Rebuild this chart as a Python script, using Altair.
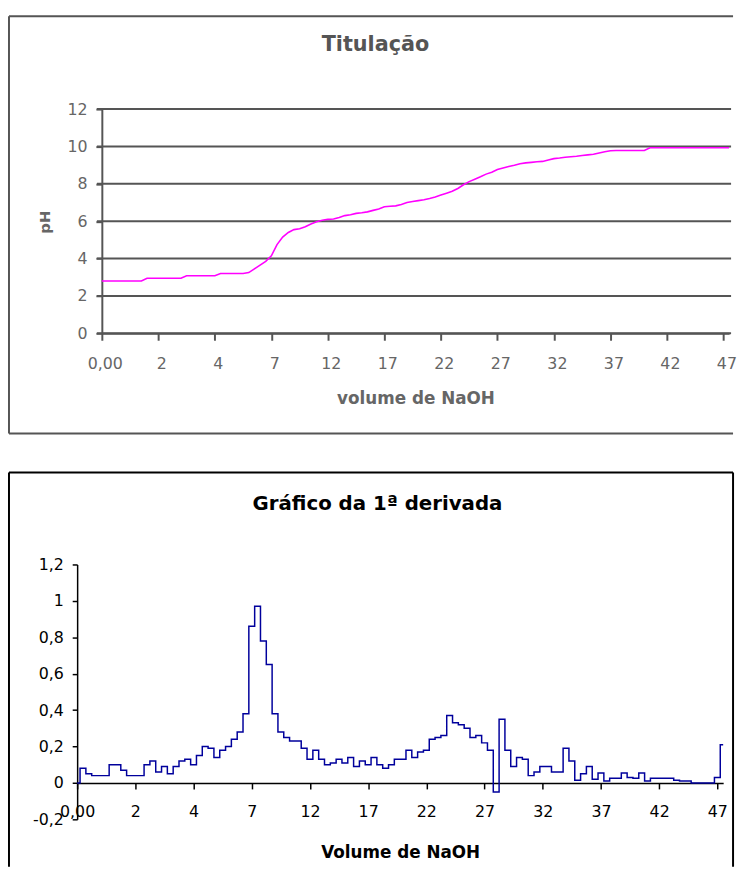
import altair as alt
import pandas as pd

# ---------------- data ----------------
x_labels = ["0,00", "2", "4", "7", "12", "17", "22", "27", "32", "37", "42", "47"]

ph_values = [
    2.80, 2.80, 2.80, 2.80, 2.80, 2.80, 2.80, 2.80,
    2.95, 2.95, 2.95, 2.95, 2.95, 2.95, 2.95,
    3.08, 3.08, 3.08, 3.08, 3.08, 3.08,
    3.20, 3.20, 3.20, 3.20, 3.20,
    3.25, 3.45, 3.65, 3.85, 4.15, 4.75, 5.15, 5.40, 5.55, 5.60,
    5.70, 5.85, 5.97, 6.05, 6.10, 6.12, 6.20, 6.30, 6.35, 6.42,
    6.45, 6.50, 6.58, 6.65, 6.77, 6.80, 6.82, 6.90, 7.00, 7.05,
    7.10, 7.15, 7.22, 7.30, 7.40, 7.50, 7.60, 7.75, 7.95, 8.12,
    8.25, 8.38, 8.52, 8.62, 8.77, 8.85, 8.93, 9.00, 9.08, 9.12,
    9.15, 9.18, 9.20, 9.28, 9.35, 9.38, 9.42, 9.45, 9.48, 9.52,
    9.55, 9.58, 9.65, 9.72, 9.77,
    9.78, 9.78, 9.78, 9.78, 9.78, 9.78,
    9.93, 9.93, 9.93, 9.93, 9.93, 9.93, 9.93, 9.93, 9.93, 9.93,
    9.93, 9.93, 9.93, 9.93, 9.93,
]

deriv_values = [
    0.00, 0.08, 0.05, 0.04, 0.04, 0.04, 0.10, 0.10, 0.07, 0.04,
    0.04, 0.04, 0.10, 0.12, 0.06, 0.09, 0.05, 0.09, 0.12, 0.13,
    0.10, 0.15, 0.20, 0.19, 0.14, 0.18, 0.20, 0.24, 0.28, 0.38,
    0.86, 0.97, 0.78, 0.65, 0.38, 0.28, 0.25, 0.23, 0.23, 0.19,
    0.13, 0.18, 0.13, 0.10, 0.11, 0.13, 0.11, 0.14, 0.09, 0.12,
    0.10, 0.14, 0.10, 0.08, 0.10, 0.13, 0.13, 0.18, 0.14, 0.17,
    0.18, 0.24, 0.25, 0.26, 0.37, 0.33, 0.32, 0.30, 0.25, 0.26,
    0.22, 0.18, -0.05, 0.35, 0.18, 0.09, 0.14, 0.13, 0.04, 0.06,
    0.09, 0.09, 0.06, 0.06, 0.19, 0.12, 0.015, 0.05, 0.09, 0.02,
    0.055, 0.01, 0.025, 0.025, 0.055, 0.03, 0.025, 0.055, 0.01, 0.025,
    0.025, 0.025, 0.025, 0.015, 0.01, 0.01, 0.0, 0.0, 0.0, 0.0,
    0.03, 0.21,
]

ph_ticks = [0, 2, 4, 6, 8, 10, 12]
deriv_ticks = [-0.2, 0.0, 0.2, 0.4, 0.6, 0.8, 1.0, 1.2]

title_top = "Titulação"
title_bottom = "Gráfico da 1ª derivada"
xtitle_top = "volume de NaOH"
xtitle_bottom = "Volume de NaOH"
ytitle_top = "pH"

# ---------------- tables ----------------
df_top = pd.DataFrame({"i": list(range(len(ph_values))), "ph": ph_values})
df_grid = pd.DataFrame({"ph": ph_ticks})
df_bot = pd.DataFrame({"i": list(range(len(deriv_values))), "d": deriv_values})
one = pd.DataFrame({"k": [0]})

last = len(ph_values) - 1
tick_vals = [k * 10 for k in range(len(x_labels))]
label_expr = "[" + ",".join("'%s'" % s for s in x_labels) + "][round(datum.value/10)]"
dec_expr = "replace(replace(format(datum.value, '.1~f'), '.', ','), '\u2212', '-')"

FONT = "DejaVu Sans"
GRAY = "#555555"
LGRAY = "#666666"


def vrule(x, y1, y2, color, w=2):
    return alt.Chart(one).mark_rule(color=color, strokeWidth=w).encode(
        x=alt.value(x), y=alt.value(y1), y2=alt.value(y2))


def hrule(y, x1, x2, color, w=2):
    return alt.Chart(one).mark_rule(color=color, strokeWidth=w).encode(
        y=alt.value(y), x=alt.value(x1), x2=alt.value(x2))


def text(t, x, y, size, color):
    return alt.Chart(pd.DataFrame({"t": [t]})).mark_text(
        font=FONT, fontSize=size, fontWeight="bold", color=color,
        align="center", baseline="middle").encode(
        text="t:N", x=alt.value(x), y=alt.value(y))


# ---------------- top chart ----------------
# plot group starts at the same page x as the lower chart; the x range is shifted
W1, H1 = 660, 227
SHIFT = 25
y_top = alt.Y("ph:Q", scale=alt.Scale(domain=[0, 12], nice=False, zero=False),
              axis=alt.Axis(values=ph_ticks, grid=False, offset=-SHIFT,
                            domainColor=GRAY, domainWidth=2, tickColor=GRAY, tickWidth=2, tickSize=6,
                            labelColor=LGRAY, labelFont=FONT, labelFontSize=16, labelPadding=9,
                            title=ytitle_top, titleColor=LGRAY, titleFont=FONT, titleFontSize=15,
                            titleFontWeight="bold", titleX=-58, titleY=114, titleAlign="center",
                            titleBaseline="middle", titleAngle=270))

grid = alt.Chart(df_grid).mark_rule(color=GRAY, strokeWidth=2).encode(
    y=y_top, x=alt.value(SHIFT - 5), x2=alt.value(W1 + 2))

top_line = alt.Chart(df_top).mark_line(color="#FF00FF", strokeWidth=1.6).encode(
    x=alt.X("i:Q", scale=alt.Scale(domain=[0, last], range=[SHIFT, W1], nice=False, zero=False),
            axis=alt.Axis(values=tick_vals, labelExpr=label_expr, grid=False,
                          labelFlush=False, labelOverlap=False,
                          domainColor=GRAY, domainWidth=2, tickColor=GRAY, tickWidth=2, tickSize=7,
                          labelColor=LGRAY, labelFont=FONT, labelFontSize=16, labelPadding=16,
                          labelOffset=3,
                          title=xtitle_top, titleColor=LGRAY, titleFont=FONT, titleFontSize=17,
                          titleFontWeight="bold", titleY=66, titleBaseline="middle")),
    y=y_top,
)

top = alt.layer(
    grid,
    top_line,
    vrule(-69, -94, 328.5, GRAY),
    hrule(-94, -69, 664, GRAY),
    hrule(328.5, -69, 664, GRAY),
    text(title_top, 302, -65, 21, GRAY),
).properties(width=W1, height=H1)

# ---------------- bottom chart ----------------
W2, H2 = 654, 258
bot_line = alt.Chart(df_bot).mark_line(color="#00009C", strokeWidth=1.5, interpolate="step").encode(
    x=alt.X("i:Q", scale=alt.Scale(domain=[0, last], nice=False, zero=False),
            axis=alt.Axis(values=tick_vals, labelExpr=label_expr, grid=False,
                          labelFlush=False, labelOverlap=False, offset=-36.8,
                          domainColor="black", domainWidth=1.5, tickColor="black", tickWidth=1.5,
                          tickSize=6, labelColor="black", labelFont=FONT, labelFontSize=16,
                          labelPadding=15,
                          title=xtitle_bottom, titleColor="black", titleFont=FONT, titleFontSize=17,
                          titleFontWeight="bold", titleY=70, titleBaseline="middle")),
    y=alt.Y("d:Q", scale=alt.Scale(domain=[-0.2, 1.2], nice=False, zero=False),
            axis=alt.Axis(values=deriv_ticks, labelExpr=dec_expr, grid=False,
                          domainColor="black", domainWidth=1.5, tickColor="black", tickWidth=1.5,
                          tickSize=5, labelColor="black", labelFont=FONT, labelFontSize=16,
                          labelPadding=9, title=None)),
)

BOT_END = 306
bottom = alt.layer(
    bot_line,
    vrule(-69, -93, BOT_END, "black"),
    vrule(664, -93, BOT_END, "black"),
    hrule(-93, -69, 664, "black"),
    text(title_bottom, 304, -61.5, 20, "black"),
).properties(width=W2, height=H2)

chart = alt.vconcat(top, bottom, spacing=37).properties(
    padding={"left": 0, "top": 2, "right": 0, "bottom": 0},
    background="white",
).configure_view(stroke=None)

chart.save("out.html", embed_options={"renderer": "svg", "actions": False})
